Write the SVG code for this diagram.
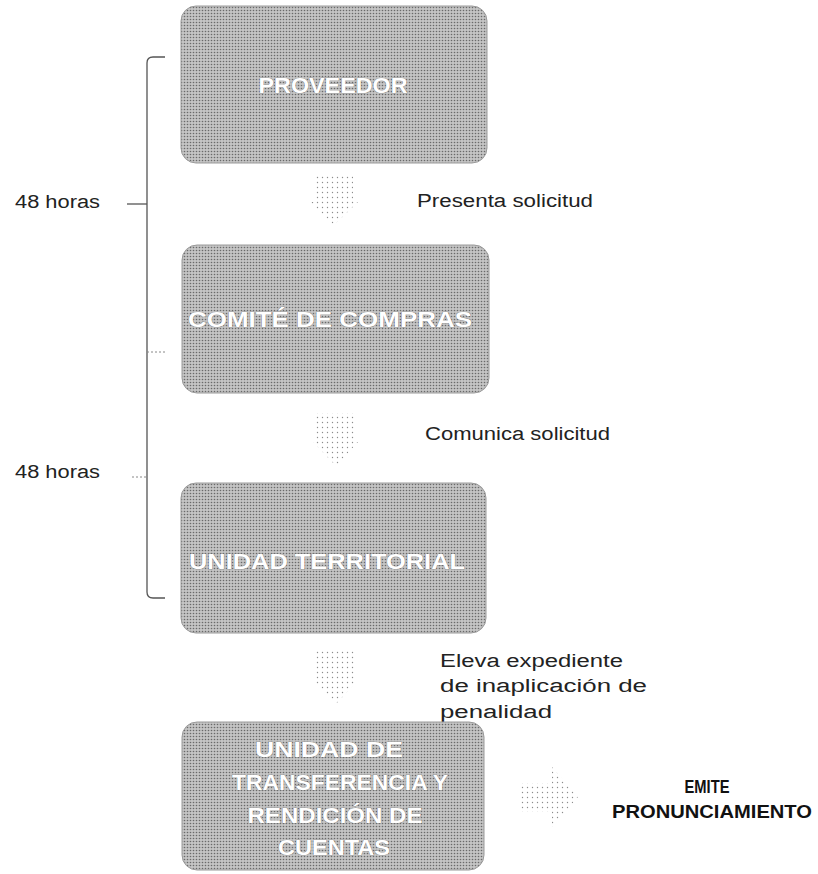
<svg xmlns="http://www.w3.org/2000/svg" width="818" height="874" viewBox="0 0 818 874">
<defs>
<pattern id="tex" width="3" height="3" patternUnits="userSpaceOnUse">
<rect width="3" height="3" fill="#c4c4c4"/>
<circle cx="1.5" cy="1.5" r="0.8" fill="#6a6a6a"/>
</pattern>
<pattern id="dots" width="5" height="5" patternUnits="userSpaceOnUse">
<rect width="5" height="5" fill="#ffffff"/>
<circle cx="2.5" cy="2.5" r="0.7" fill="#8c8c8c"/>
</pattern>
<style>
.box{fill:url(#tex);stroke:#9a9a9a;stroke-width:1}
.bt{font-family:"Liberation Sans",Arial,sans-serif;font-weight:bold;font-size:22px;fill:#ffffff;stroke:#7a7a7a;stroke-width:0.7;paint-order:stroke;text-anchor:middle}
.lb{font-family:"Liberation Sans",Arial,sans-serif;font-size:18px;fill:#222222}
.em{font-family:"Liberation Sans",Arial,sans-serif;font-weight:bold;font-size:18px;fill:#111111;text-anchor:middle}
.arr{fill:url(#dots);stroke:none}
.br{fill:none;stroke:#555555;stroke-width:1.3}
.tk{fill:none;stroke:#888888;stroke-width:1;stroke-dasharray:2 2}
</style>
</defs>
<rect width="818" height="874" fill="#ffffff"/>

<g id="connectors">
<path class="arr" d="M314,175 L353,175 L353,202 L358,202 L334,225 L310,202 L314,202 Z"/>
<path class="arr" d="M316,413 L354,413 L354,442 L358,442 L336,466 L313,442 L316,442 Z"/>
<path class="arr" d="M316,651 L354,651 L354,680 L358,680 L336,704 L313,680 L316,680 Z"/>
<path class="arr" d="M520,783 L552,783 L552,767 L578,797 L552,827 L552,812 L520,812 Z"/>
<g id="bracket">
<path class="br" d="M165,57 L153,57 Q147,57 147,63 L147,592 Q147,598 153,598 L165,598"/>
<path class="br" d="M127,204 L147,204"/>
<path class="tk" d="M147,352 L165,352"/>
<path class="tk" d="M132,477 L147,477"/>
</g>
</g>

<g id="label-48-1"><text class="lb" x="15" y="208" textLength="85" lengthAdjust="spacingAndGlyphs">48 horas</text></g>
<g id="label-48-2"><text class="lb" x="15" y="478" textLength="85" lengthAdjust="spacingAndGlyphs">48 horas</text></g>

<g id="node-proveedor">
<rect class="box" x="181" y="6" width="306" height="157" rx="15"/>
<text class="bt" x="333" y="93" textLength="149" lengthAdjust="spacingAndGlyphs">PROVEEDOR</text>
</g>
<g id="label-presenta"><text class="lb" x="417" y="207" textLength="176" lengthAdjust="spacingAndGlyphs">Presenta solicitud</text></g>

<g id="node-comite">
<rect class="box" x="182" y="245" width="307" height="148" rx="15"/>
<text class="bt" x="330" y="327" textLength="284" lengthAdjust="spacingAndGlyphs">COMITÉ  DE COMPRAS</text>
</g>
<g id="label-comunica"><text class="lb" x="425" y="440" textLength="185" lengthAdjust="spacingAndGlyphs">Comunica solicitud</text></g>

<g id="node-unidad-territorial">
<rect class="box" x="181" y="483" width="305" height="150" rx="15"/>
<text class="bt" x="327" y="569" textLength="276" lengthAdjust="spacingAndGlyphs">UNIDAD TERRITORIAL</text>
</g>
<g id="label-eleva">
<text class="lb" x="440" y="667" textLength="183" lengthAdjust="spacingAndGlyphs">Eleva expediente</text>
<text class="lb" x="440" y="692" textLength="207" lengthAdjust="spacingAndGlyphs">de inaplicación de</text>
<text class="lb" x="440" y="718" textLength="112" lengthAdjust="spacingAndGlyphs">penalidad</text>
</g>

<g id="node-utrc">
<rect class="box" x="182" y="722" width="302" height="148" rx="15"/>
<text class="bt" x="329" y="757" textLength="148" lengthAdjust="spacingAndGlyphs">UNIDAD DE</text>
<text class="bt" x="340" y="790" textLength="216" lengthAdjust="spacingAndGlyphs">TRANSFERENCIA Y</text>
<text class="bt" x="335" y="823" textLength="175" lengthAdjust="spacingAndGlyphs">RENDICIÓN DE</text>
<text class="bt" x="334" y="855" textLength="112" lengthAdjust="spacingAndGlyphs">CUENTAS</text>
</g>

<g id="label-emite">
<text class="em" x="707" y="793" textLength="45" lengthAdjust="spacingAndGlyphs">EMITE</text>
<text class="em" x="712" y="818" textLength="200" lengthAdjust="spacingAndGlyphs">PRONUNCIAMIENTO</text>
</g>
</svg>
